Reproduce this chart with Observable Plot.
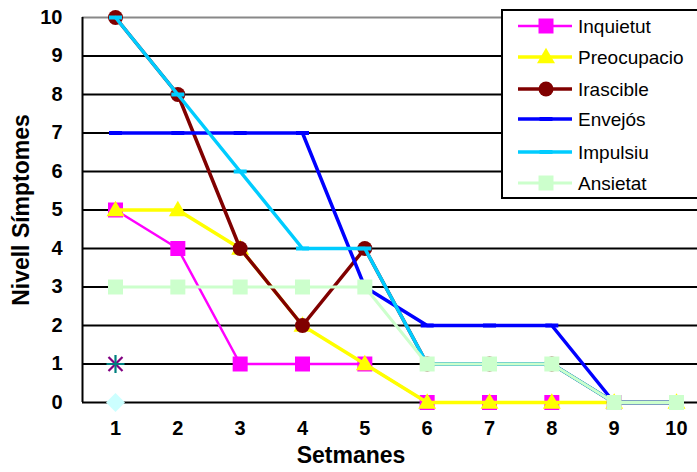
<!DOCTYPE html>
<html><head><meta charset="utf-8">
<script src="https://cdn.jsdelivr.net/npm/d3@7"></script>
<script src="https://cdn.jsdelivr.net/npm/@observablehq/plot@0.6"></script>
<style>
body{margin:0;background:#fff;font-family:"Liberation Sans",Arial,sans-serif;}
#wrap{position:relative;width:697px;height:472px;overflow:hidden;}
#wrap svg.chart text{font-family:"Liberation Sans",Arial,sans-serif;font-weight:bold;fill:#000;}
#legend{position:absolute;left:501px;top:9px;width:220px;height:190px;border:2px solid #000;background:#fff;box-sizing:border-box;}
</style>
</head><body>
<div id="wrap"></div>
<script>
// ---- data ----
const weeks = [1, 2, 3, 4, 5, 6, 7, 8, 9, 10];
const inquietut   = [5, 4, 1, 1, 1, 0, 0, 0, 0, 0];
const preocupacio = [5, 5, 4, 2, 1, 0, 0, 0, 0, 0];
const irascible   = [10, 8, 4, 2, 4, 1, 1, 1, 0, 0];
const envejos     = [7, 7, 7, 7, 3, 2, 2, 2, 0, 0];
const impulsiu    = [10, 8, 6, 4, 4, 1, 1, 1, 0, 0];
const ansietat    = [3, 3, 3, 3, 3, 1, 1, 1, 0, 0];
const seriesNames = ["Inquietut", "Preocupacio", "Irascible", "Envejós", "Impulsiu", "Ansietat"];
const seriesValues = [inquietut, preocupacio, irascible, envejos, impulsiu, ansietat];
// stray single points (unnamed series) at week 1
const extraStarWeek = [1], extraStarValue = [1];
const extraDiamondWeek = [1], extraDiamondValue = [0];
const yTicks = [0, 1, 2, 3, 4, 5, 6, 7, 8, 9, 10];
const gridTicks = [1, 2, 3, 4, 5, 6, 7, 8, 9];
const xLabel = "Setmanes";
const yLabel = "Nivell Símptomes";

// ---- styles ----
const colors = ["#FF00FF", "#FFFF00", "#800000", "#0000FF", "#00CCFF", "#CCFFCC"];
const widths = [2.5, 3.5, 3.5, 3.5, 3.5, 3];
const sq = s => ({draw(c){c.rect(-s/2, -s/2, s, s);}});
const tri = s => ({draw(c){const h = s*Math.sqrt(3)/2; c.moveTo(0, -h*0.6); c.lineTo(s/2, h*0.4); c.lineTo(-s/2, h*0.4); c.closePath();}});
const circ = d => ({draw(c){c.moveTo(d/2, 0); c.arc(0, 0, d/2, 0, 2*Math.PI);}});
const dash = (w, h) => ({draw(c){c.rect(-w/2, -h/2, w, h);}});
const diam = s => ({draw(c){c.moveTo(0, -s/2); c.lineTo(s/2, 0); c.lineTo(0, s/2); c.lineTo(-s/2, 0); c.closePath();}});
const cross = s => ({draw(c){c.moveTo(-s/2, -s/2); c.lineTo(s/2, s/2); c.moveTo(s/2, -s/2); c.lineTo(-s/2, s/2);}});
const plus = s => ({draw(c){c.moveTo(-s/2, 0); c.lineTo(s/2, 0); c.moveTo(0, -s/2); c.lineTo(0, s/2);}});
const symbols = [sq(15), tri(18), circ(15), dash(13, 4), dash(13, 4), sq(15)];

const xDomain = [0.4706, 10.337];
const W = 697, H = 472;

const marks = [];
marks.push(Plot.ruleY(gridTicks, {stroke: "#000", strokeWidth: 1.8}));
marks.push(Plot.ruleY([yTicks[yTicks.length-1]], {stroke: "#888", strokeWidth: 2}));
marks.push(Plot.ruleY([0], {stroke: "#000", strokeWidth: 2}));
marks.push(Plot.ruleX([xDomain[0]], {y1: 0, y2: 10, stroke: "#000", strokeWidth: 2}));

seriesNames.forEach((name, i) => {
  const rows = weeks.map((w, j) => ({week: w, value: seriesValues[i][j], series: name}));
  marks.push(Plot.line(rows, {x: "week", y: "value", stroke: colors[i], strokeWidth: widths[i]}));
  marks.push(Plot.dot(rows, {x: "week", y: "value", r: 5, symbol: symbols[i], fill: colors[i], stroke: "none"}));
});
const starRows = extraStarWeek.map((w, j) => ({week: w, value: extraStarValue[j]}));
const diamRows = extraDiamondWeek.map((w, j) => ({week: w, value: extraDiamondValue[j]}));
marks.push(Plot.dot(starRows, {x: "week", y: "value", r: 5, symbol: cross(14), fill: "none", stroke: "#800080", strokeWidth: 2.2}));
marks.push(Plot.dot(starRows, {x: "week", y: "value", r: 5, symbol: plus(18), fill: "none", stroke: "#008080", strokeWidth: 2.2}));
marks.push(Plot.dot(diamRows, {x: "week", y: "value", r: 5, symbol: diam(19), fill: "#CCFFFF", stroke: "none"}));

marks.push(Plot.axisY(yTicks, {tickSize: 0, tickPadding: 20, fontSize: 20, label: yLabel, labelAnchor: "center", labelOffset: 70, labelArrow: "none"}));
marks.push(Plot.axisX(weeks, {tickSize: 0, tickPadding: 18, fontSize: 20, label: xLabel, labelAnchor: "center", labelOffset: 60, labelArrow: "none"}));

const chart = Plot.plot({
  width: W, height: H,
  marginTop: 17, marginBottom: 70, marginLeft: 82, marginRight: 0,
  x: {type: "linear", domain: xDomain},
  y: {domain: [0, 10]},
  style: {fontFamily: "Liberation Sans, Arial, sans-serif", fontSize: "20px", background: "#fff", overflow: "visible"},
  marks
});
chart.classList.add("chart");
document.getElementById("wrap").appendChild(chart);
// axis titles: larger font; x title centred under the Excel plot area
d3.select(chart).selectAll('g[aria-label="y-axis label"] text').style("font-size", "23px");
d3.select(chart).selectAll('g[aria-label="x-axis label"] text').style("font-size", "23px").attr("dx", -39);

// ---- legend ----
const leg = d3.select("#wrap").append("div").attr("id", "legend");
const lsvg = leg.append("svg").attr("width", 218).attr("height", 186).style("display", "block");
const rowY = [15, 46, 78, 108, 141, 172];
seriesNames.forEach((name, i) => {
  const g = lsvg.append("g").attr("transform", `translate(0,${rowY[i]})`);
  g.append("line").attr("x1", 15).attr("x2", 69).attr("stroke", colors[i]).attr("stroke-width", widths[i]);
  const p = d3.path(); symbols[i].draw(p, 0);
  g.append("path").attr("d", p.toString()).attr("transform", "translate(43,0)").attr("fill", colors[i]);
  g.append("text").attr("x", 75).attr("dy", "0.35em").attr("font-size", 19).attr("font-family", "Liberation Sans, Arial, sans-serif").text(name);
});
</script>
</body></html>
